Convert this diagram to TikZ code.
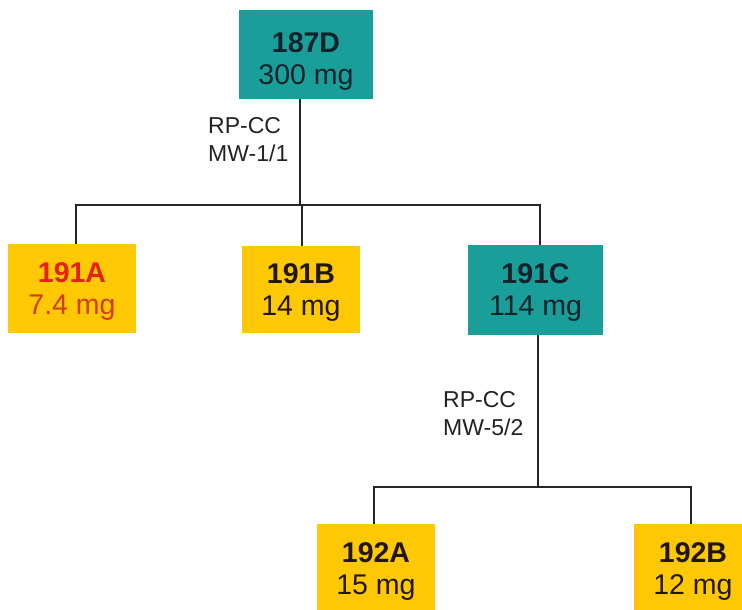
\documentclass[tikz,border=0pt]{standalone}
\usepackage{fontspec}
\setmainfont{Liberation Sans}
\definecolor{tealfill}{RGB}{26,158,154}
\definecolor{goldfill}{RGB}{255,200,4}
\definecolor{tealink}{RGB}{16,34,44}
\definecolor{goldink}{RGB}{34,22,4}
\definecolor{alertbold}{RGB}{228,34,16}
\definecolor{alertreg}{RGB}{208,62,18}
\definecolor{noteink}{RGB}{34,34,34}
\begin{document}
\begin{tikzpicture}[x=1pt,y=-1pt,
  card/.style={rectangle, inner sep=0pt},
  tealcard/.style={card, fill=tealfill},
  goldcard/.style={card, fill=goldfill},
  cardtext/.style={inner sep=0pt, align=center,
    font=\fontsize{28.5}{32}\selectfont},
  note/.style={align=left, inner sep=0pt, text=noteink,
    font=\fontsize{23}{28.5}\selectfont, anchor=north west},
  conn/.style={draw=black!85, line width=1.4pt}]
\useasboundingbox (0,0) rectangle (742,610);
\clip (0,0) rectangle (742,610);

% parent sample
\node[tealcard, minimum width=134, minimum height=89] (n187) at (306,54.5) {};
\node[cardtext, text=tealink] (t187) at ([yshift=-7pt]n187.center)
  {\textbf{187D}\\300 mg};

% first fractionation products
\node[goldcard, minimum width=128, minimum height=89] (n191A) at (72,288.5) {};
\node[cardtext] (t191A) at ([yshift=-3pt]n191A.center)
  {\textcolor{alertbold}{\textbf{191A}}\\\textcolor{alertreg}{7.4 mg}};
\node[goldcard, minimum width=118, minimum height=87] (n191B) at (301,289.5) {};
\node[cardtext, text=goldink] (t191B) at ([yshift=-3pt]n191B.center)
  {\textbf{191B}\\14 mg};
\node[tealcard, minimum width=135, minimum height=90] (n191C) at (535.5,290) {};
\node[cardtext, text=tealink] (t191C) at ([yshift=-3pt]n191C.center)
  {\textbf{191C}\\114 mg};

% second fractionation products
\node[goldcard, minimum width=118, minimum height=89] (n192A) at (376,568.5) {};
\node[cardtext, text=goldink] (t192A) at ([yshift=-3pt]n192A.center)
  {\textbf{192A}\\15 mg};
\node[goldcard, minimum width=118, minimum height=89] (n192B) at (693,568.5) {};
\node[cardtext, text=goldink] (t192B) at ([yshift=-3pt]n192B.center)
  {\textbf{192B}\\12 mg};

% method labels
\node[note] (m1) at (208,117) {RP-CC\\MW-1/1};
\node[note] (m2) at (443,391) {RP-CC\\MW-5/2};

% junction points of the connectors
\coordinate (j1) at (300,205);
\coordinate (a1) at (76,205);
\coordinate (b1) at (302,205);
\coordinate (c1) at (540,205);
\coordinate (j2) at (538,487);
\coordinate (a2) at (374,487);
\coordinate (b2) at (691,487);

% connectors
\draw[conn] (n187.south -| j1) -- (j1);
\draw[conn] (n191A.north -| a1) -- (a1) -- (c1) -- (n191C.north -| c1);
\draw[conn] (n191B.north -| b1) -- (b1);
\draw[conn] (n191C.south -| j2) -- (j2);
\draw[conn] (n192A.north -| a2) -- (a2) -- (b2) -- (n192B.north -| b2);
\end{tikzpicture}
\end{document}
